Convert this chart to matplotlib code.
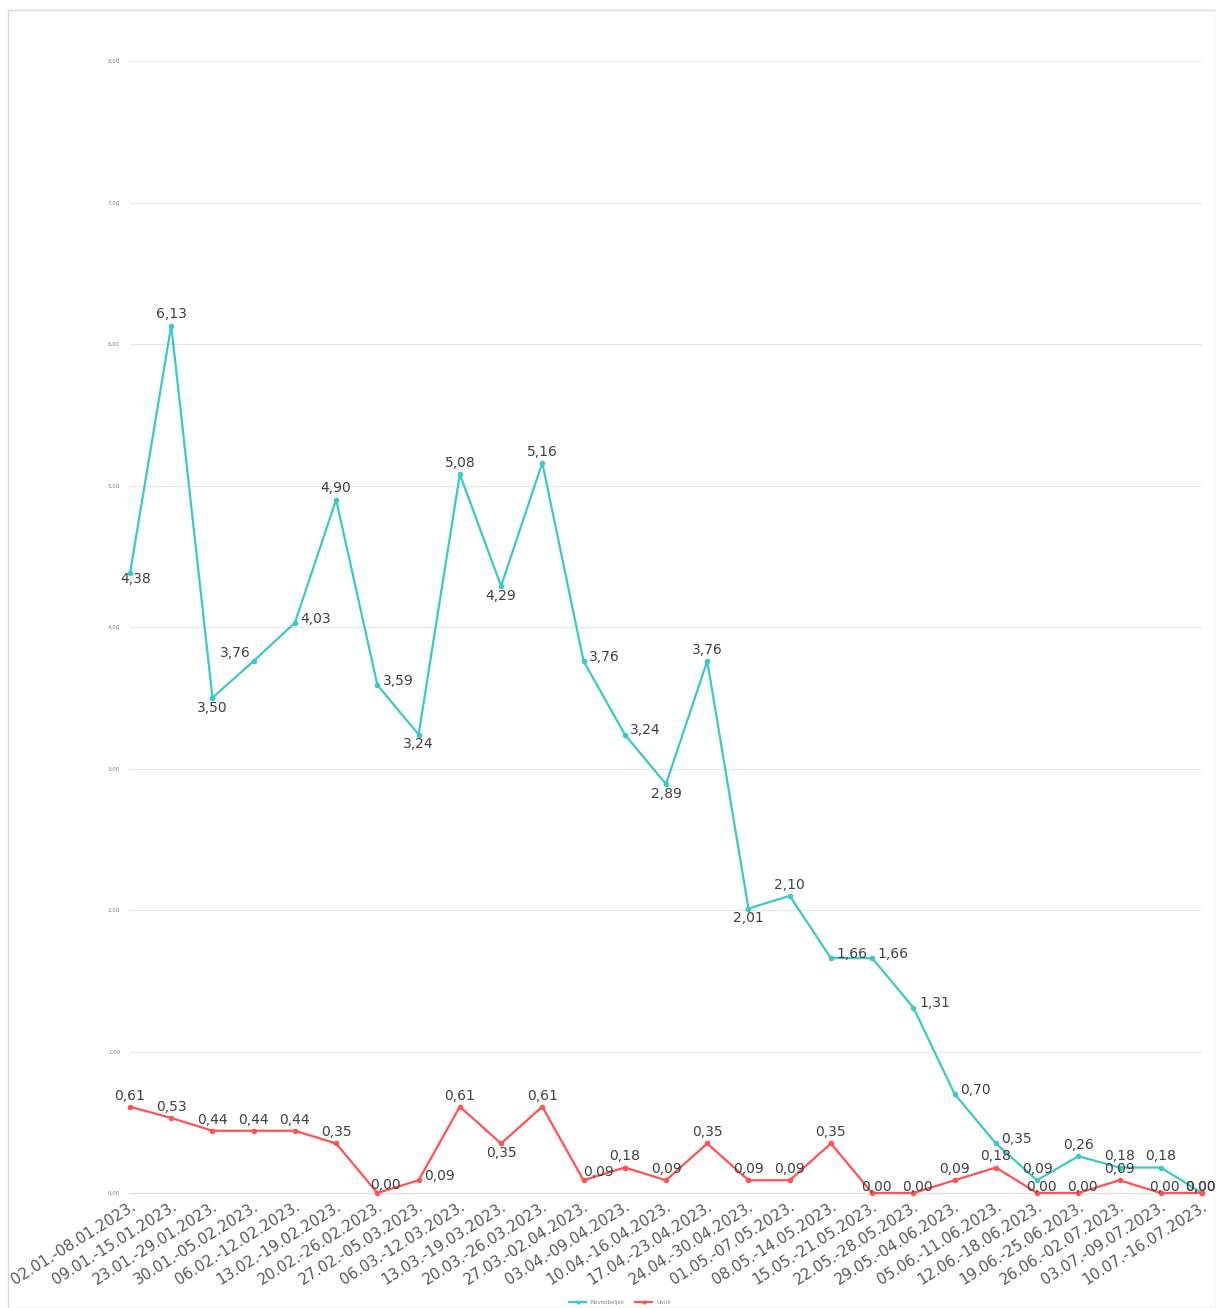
import matplotlib
matplotlib.use("Agg")
import matplotlib.pyplot as plt
import matplotlib.patches as mpatches
from matplotlib.ticker import FuncFormatter

# tjedni (kategorije na x osi)
weeks = [
    "02.01.-08.01.2023.", "09.01.-15.01.2023.", "23.01.-29.01.2023.",
    "30.01.-05.02.2023.", "06.02.-12.02.2023.", "13.02.-19.02.2023.",
    "20.02.-26.02.2023.", "27.02.-05.03.2023.", "06.03.-12.03.2023.",
    "13.03.-19.03.2023.", "20.03.-26.03.2023.", "27.03.-02.04.2023.",
    "03.04.-09.04.2023.", "10.04.-16.04.2023.", "17.04.-23.04.2023.",
    "24.04.-30.04.2023.", "01.05.-07.05.2023.", "08.05.-14.05.2023.",
    "15.05.-21.05.2023.", "22.05.-28.05.2023.", "29.05.-04.06.2023.",
    "05.06.-11.06.2023.", "12.06.-18.06.2023.", "19.06.-25.06.2023.",
    "26.06.-02.07.2023.", "03.07.-09.07.2023.", "10.07.-16.07.2023.",
]

series_a = [4.38, 6.13, 3.50, 3.76, 4.03, 4.90, 3.59, 3.24, 5.08, 4.29,
            5.16, 3.76, 3.24, 2.89, 3.76, 2.01, 2.10, 1.66, 1.66, 1.31,
            0.70, 0.35, 0.09, 0.26, 0.18, 0.18, 0.00]
series_b = [0.61, 0.53, 0.44, 0.44, 0.44, 0.35, 0.00, 0.09, 0.61, 0.35,
            0.61, 0.09, 0.18, 0.09, 0.35, 0.09, 0.09, 0.35, 0.00, 0.00,
            0.09, 0.18, 0.00, 0.00, 0.09, 0.00, 0.00]
label_a = "Novooboljeli"
label_b = "Umrli"

# polozaj oznaka: a=iznad, b=ispod, r=desno, l=lijevo-gore, ar=gore-desno,
# c=preko tocke (nisko), e=zadnja tocka
pos_a = ["br", "a", "b", "l", "r", "a", "r", "b", "a", "b",
         "a", "r", "r", "b", "a", "b", "a", "r", "r", "r",
         "r", "r", "a", "a", "a", "a", "e"]
pos_b = ["a", "a", "a", "a", "a", "a", "ar", "r", "a", "b",
         "a", "ar2", "a", "a", "a", "a", "a", "a", "c", "c",
         "a", "a", "c", "c", "a", "c", "e"]

CYAN = "#3cc8c8"
RED = "#ff5353"
TXT = "#404040"

offsets = {"a": (0, 3, "center", "bottom"),
           "b": (0, -2, "center", "top"),
           "br": (4, -4, "center", "center"),
           "r": (4, 3, "left", "center"),
           "l": (-13, 1, "center", "bottom"),
           "ar": (6, 1, "center", "bottom"),
           "ar2": (11, 1, "center", "bottom"),
           "c": (3, -1, "center", "bottom"),
           "e": (-1, -1, "center", "bottom")}

fig = plt.figure(figsize=(12.16, 13.08), dpi=100)
ax = fig.add_axes([130 / 1216, 115 / 1308, 1072 / 1216, 1132 / 1308])

x = list(range(len(weeks)))
ax.plot(x, series_a, color=CYAN, lw=1.6, marker="o", ms=3, label=label_a,
        clip_on=False, zorder=3)
ax.plot(x, series_b, color=RED, lw=1.6, marker="o", ms=3, label=label_b,
        clip_on=False, zorder=3)

def annotate(vals, pos):
    for i, (v, p) in enumerate(zip(vals, pos)):
        dx, dy, ha, va = offsets[p]
        ax.annotate(f"{v:.2f}".replace(".", ","), (i, v), xytext=(dx, dy),
                    textcoords="offset points", ha=ha, va=va,
                    fontsize=10, color=TXT, zorder=4, annotation_clip=False)

annotate(series_a, pos_a)
annotate(series_b, pos_b)

ax.set_xlim(0, len(weeks) - 1)
ax.set_ylim(0, 8)
ax.set_yticks(range(0, 9))
ax.yaxis.set_major_formatter(FuncFormatter(lambda v, _: f"{v:.2f}".replace(".", ",")))
ax.tick_params(axis="y", labelsize=4, colors="#808080", length=0, pad=7)
ax.grid(axis="y", color="#e6e6e6", lw=0.8)
ax.set_axisbelow(True)

ax.set_xticks(x)
ax.set_xticklabels(weeks, rotation=32, ha="right", va="top",
                   rotation_mode="anchor", fontsize=10.8, color="#595959")
ax.tick_params(axis="x", length=0, pad=4)

for s in ["top", "right", "left"]:
    ax.spines[s].set_visible(False)
ax.spines["bottom"].set_color("#d9d9d9")

fig.legend(handles=[plt.Line2D([], [], color=CYAN, lw=1.6, marker="o", ms=2),
                    plt.Line2D([], [], color=RED, lw=1.6, marker="o", ms=2)],
           labels=[label_a, label_b], loc="center", bbox_to_anchor=(0.51, 0.004),
           ncol=2, frameon=False, fontsize=4, labelcolor="#808080",
           handlelength=3, columnspacing=2)

# okvir oko grafikona
fig.patches.append(mpatches.Rectangle((8 / 1216, 0), 1 - 8 / 1216, 1 - 10 / 1308,
                                      transform=fig.transFigure, fill=False,
                                      edgecolor="#d9d9d9", lw=1))

fig.savefig("out.png", dpi=100)
